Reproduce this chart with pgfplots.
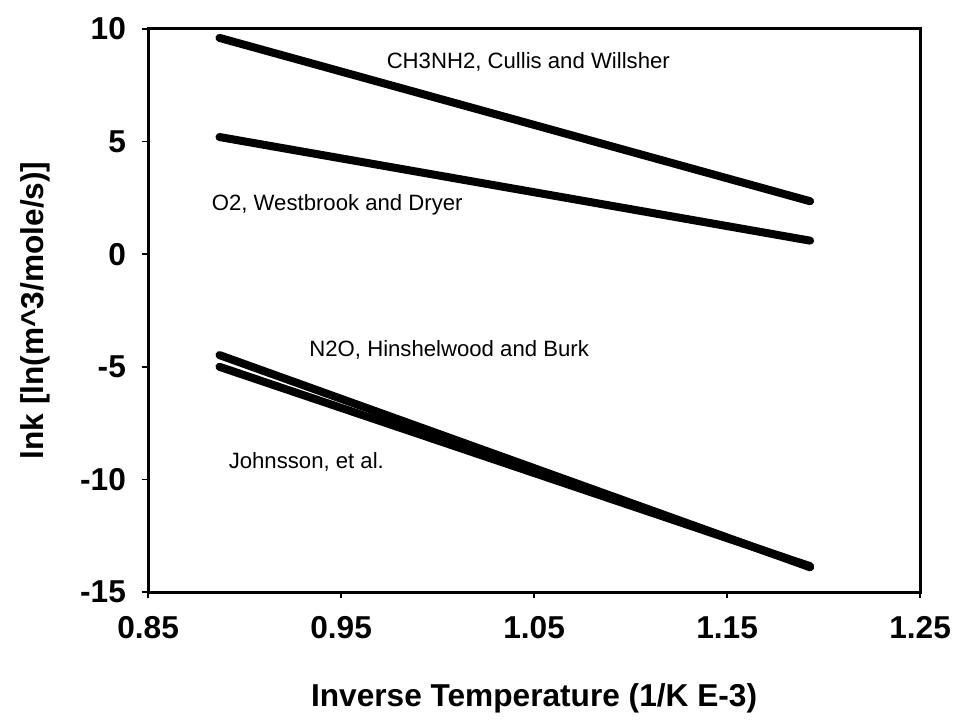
\documentclass[border=0pt]{standalone}
\usepackage{pgfplots}
\pgfplotsset{compat=1.18}
\usepackage{fontspec}
\setmainfont{Liberation Sans}
\begin{document}
\begin{tikzpicture}
    \begin{axis}[scale only axis,
        width=366pt,height=267pt,
        xmin=0.85,xmax=1.25,
        ymin=-15,ymax=10,
        axis line style={line width=1.4pt},
        xtick={0.85,0.95,1.05,1.15,1.25},
        xticklabels={0.85,0.95,1.05,1.15,1.25},
        ytick={-15,-10,-5,0,5,10},
        yticklabels={-15,-10,-5,0,5,10},
        xtick pos=bottom, ytick pos=left,
        tick align=outside,
        major tick length=3pt,
        tick style={line width=0.8pt,black},
        ticklabel style={font=\bfseries\fontsize{15}{15}\selectfont},
        xticklabel style={yshift=-5pt},
        yticklabel style={xshift=-4pt},
        xlabel={Inverse Temperature (1/K E-3)},
        ylabel={lnk [ln(m\textasciicircum 3/mole/s)]},
        label style={font=\bfseries\fontsize{15}{15}\selectfont},
        xlabel style={at={(axis description cs:0.5,-0.188)},anchor=center},
        ylabel style={at={(axis description cs:-0.146,0.5)},anchor=center,rotate=0},
        clip=false
    ]
    \tikzset{ln/.style={black,no marks,line width=3.8pt,line cap=round}}
    % CH3NH2, Cullis and Willsher
    \addplot[ln] coordinates {(0.887,9.6)(1.193,2.35)};
    % O2, Westbrook and Dryer
    \addplot[ln] coordinates {(0.887,5.2)(1.193,0.6)};
    % N2O, Hinshelwood and Burk
    \addplot[ln] coordinates {(0.887,-4.48)(1.193,-13.9)};
    % Johnsson, et al.
    \addplot[ln] coordinates {(0.887,-5.0)(1.193,-13.85)};

    \begin{scope}[every node/.style={font=\fontsize{10.5}{10.5}\selectfont}]
    \node at (axis cs:1.047,8.53) {CH3NH2, Cullis and Willsher};
    \node at (axis cs:0.948,2.18) {O2, Westbrook and Dryer};
    \node at (axis cs:1.006,-4.25) {N2O, Hinshelwood and Burk};
    \node at (axis cs:0.932,-9.23) {Johnsson, et al.};
    \end{scope}
    \end{axis}
    \pgfresetboundingbox
    \path ([shift={(-70.2pt,-60.2pt)}]current axis.south west)
        rectangle ([shift={(17.5pt,13.7pt)}]current axis.north east);
\end{tikzpicture}
\end{document}
